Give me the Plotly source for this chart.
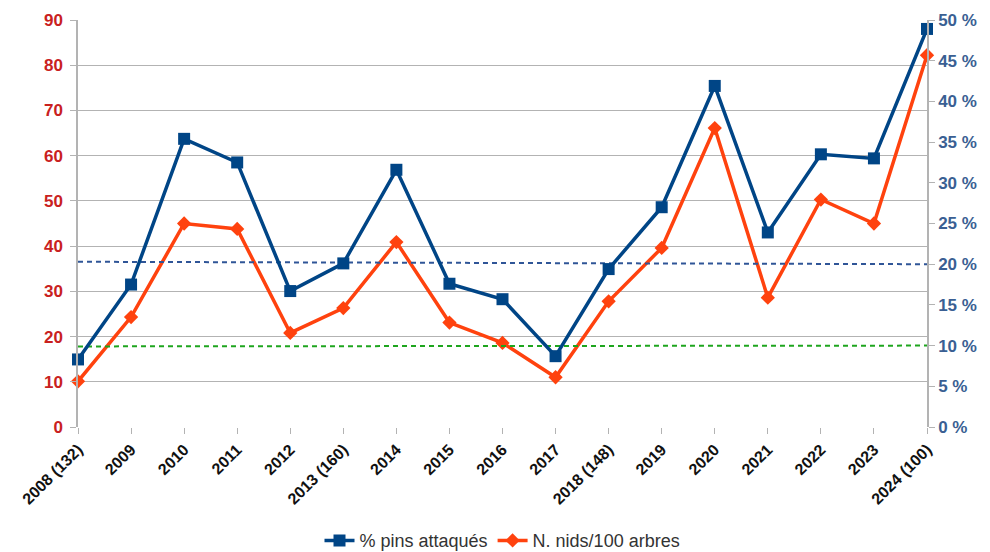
import plotly.graph_objects as go

categories = ["2008 (132)", "2009", "2010", "2011", "2012", "2013 (160)", "2014", "2015",
              "2016", "2017", "2018 (148)", "2019", "2020", "2021", "2022", "2023", "2024 (100)"]
pct_attacked = [8.3, 17.5, 35.4, 32.5, 16.7, 20.1, 31.6, 17.6, 15.7, 8.7, 19.4, 27.0, 41.9, 23.9, 33.5, 33.0, 48.9]
nests_per_100 = [10.1, 24.3, 45.0, 43.8, 20.8, 26.3, 40.9, 23.1, 18.6, 11.0, 27.8, 39.6, 66.1, 28.6, 50.3, 45.0, 82.2]
blue_ref = [20.3, 20.0]   # dashed reference line (right axis, %)
green_ref = [9.9, 10.0]   # dashed reference line (right axis, %)
left_ticks = [0, 10, 20, 30, 40, 50, 60, 70, 80, 90]
right_ticks = [0, 5, 10, 15, 20, 25, 30, 35, 40, 45, 50]

BLUE = "#004586"
ORANGE = "#ff420e"
FONT = "Liberation Sans"

fig = go.Figure()
fig.add_trace(go.Scatter(x=[categories[0], categories[-1]], y=blue_ref, yaxis="y2", mode="lines",
                         line=dict(color="#2f5597", width=2, dash="5px,4px"), showlegend=False,
                         hoverinfo="skip"))
fig.add_trace(go.Scatter(x=[categories[0], categories[-1]], y=green_ref, yaxis="y2", mode="lines",
                         line=dict(color="#1ea51e", width=2, dash="5px,4px"), showlegend=False,
                         hoverinfo="skip"))
fig.add_trace(go.Scatter(x=categories, y=pct_attacked, yaxis="y2", name="% pins attaqués",
                         mode="lines+markers", line=dict(color=BLUE, width=3.5), cliponaxis=False,
                         marker=dict(symbol="square", size=12, color=BLUE)))
fig.add_trace(go.Scatter(x=categories, y=nests_per_100, yaxis="y", name="N. nids/100 arbres",
                         mode="lines+markers", line=dict(color=ORANGE, width=3.5), cliponaxis=False,
                         marker=dict(symbol="diamond", size=11, color=ORANGE)))

fig.update_layout(
    width=990, height=552,
    margin=dict(l=70, r=71, t=12, b=133),
    plot_bgcolor="white", paper_bgcolor="white",
    font=dict(family=FONT, size=14, color="#333333"),
    xaxis=dict(type="category", categoryorder="array", categoryarray=categories,
               range=[0, 16], tickangle=-45, showgrid=False, automargin=False,
               showline=False, ticks="outside", ticklen=6, tickcolor="#b3b3b3",
               tickfont=dict(family=FONT, size=16, color="#111111", weight="bold"),
               zeroline=False),
    yaxis=dict(range=[0, 90], tickvals=left_ticks, showgrid=True, gridcolor="#b3b3b3", gridwidth=1,
               showline=True, linecolor="#b3b3b3", linewidth=1.5, ticks="outside", ticklen=6,
               tickcolor="#b3b3b3", zeroline=False, ticklabelstandoff=4, automargin=False,
               tickfont=dict(family=FONT, size=17, color="#c9211e", weight="bold")),
    yaxis2=dict(range=[0, 50], tickvals=right_ticks, ticktext=[f"{v} %" for v in right_ticks],
                overlaying="y", side="right", showgrid=False, showline=True, linecolor="#b3b3b3",
                linewidth=1.5, ticks="outside", ticklen=6, tickcolor="#b3b3b3", zeroline=False,
                automargin=False,
                tickfont=dict(family=FONT, size=17, color="#3a5f93", weight="bold")),
    legend=dict(orientation="h", x=0.5, xanchor="center", yref="container", y=0.035, yanchor="middle",
                font=dict(family=FONT, size=18, color="#333333"),
                tracegroupgap=0),
)

fig.write_html("out.html")
